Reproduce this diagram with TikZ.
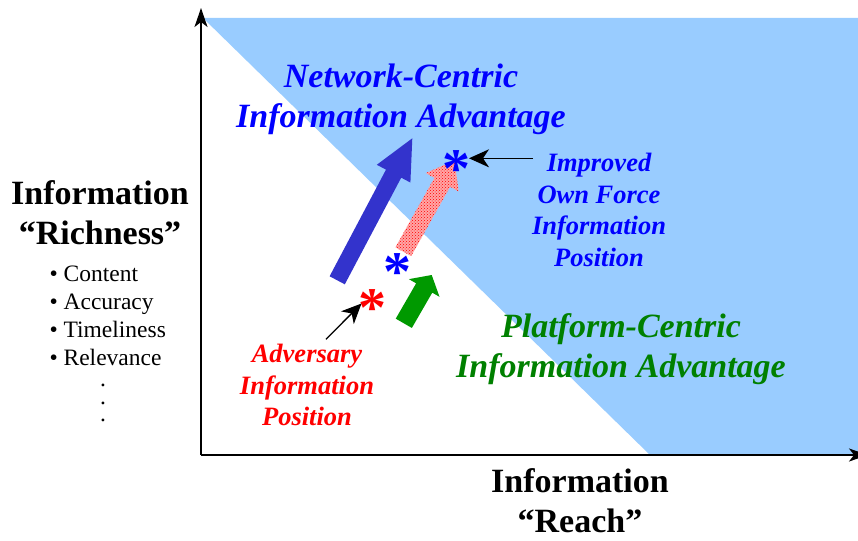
\documentclass[tikz,border=0pt]{standalone}
\usepackage{fontspec}
\setmainfont{Liberation Serif}
\usetikzlibrary{calc,arrows.meta,patterns}

\definecolor{skyfill}{RGB}{153,204,255}
\definecolor{netblue}{RGB}{0,0,255}
\definecolor{arrowblue}{RGB}{51,51,204}
\definecolor{platgreen}{RGB}{0,128,0}
\definecolor{arrowgreen}{RGB}{0,153,0}

\tikzset{
  axisline/.style={line width=1.5pt, -{Stealth[length=19pt,width=13pt,inset=5pt]}},
  pointer/.style={line width=1.3pt, -{Stealth[length=20pt,width=18pt,inset=6pt]}},
  axislabel/.style={font=\fontsize{34}{40}\selectfont\bfseries, align=center},
  bigtitle/.style={font=\fontsize{34}{40}\selectfont\bfseries\itshape, align=center},
  smalltitle/.style={font=\fontsize{26.5}{31.7}\selectfont\bfseries\itshape, align=center},
  facetlist/.style={font=\fontsize{23.5}{28}\selectfont, align=left},
  listdot/.style={font=\fontsize{23.5}{28}\selectfont, inner sep=0pt},
  starmark/.style={font=\fontsize{56}{56}\selectfont\bfseries, inner sep=0pt}
}

% fat block arrow: style, tail, tip, shaft half width, head half width, head length
\newcommand{\fatarrow}[6]{%
  \coordinate (hb) at ($(#3)!#6!(#2)$);
  \path[#1] ($(#2)!#4!90:(#3)$) -- ($(hb)!#4!90:(#3)$) -- ($(hb)!#5!90:(#3)$) -- (#3)
    -- ($(hb)!#5!-90:(#3)$) -- ($(hb)!#4!-90:(#3)$) -- ($(#2)!#4!-90:(#3)$) -- cycle;}

\begin{document}
\begin{tikzpicture}[x=1pt,y=-1pt]
  \useasboundingbox (0,0) rectangle (858,540);

  % Advantage region
  \fill[skyfill] (203,18) -- (858,18) -- (858,455) -- (650,455) -- cycle;

  % Axes
  \draw[axisline] (201,455) -- (201,8);
  \draw[axisline] (201,455) -- (868,455);

  % Axis labels
  \node[axislabel] (richness) at (100,213) {Information\\“Richness”};
  \node[facetlist, anchor=west] (facets) at (46,316) {• Content\\• Accuracy\\• Timeliness\\• Relevance};
  \node[listdot] (dotone) at (103,385) {.};
  \node[listdot] (dottwo) at (103,403) {.};
  \node[listdot] (dotthree) at (103,420) {.};
  \node[axislabel] (reach) at (580,501) {Information\\“Reach”};

  % Advantage labels
  \node[bigtitle, text=netblue] (network) at (401,99) {Network-Centric\\Information Advantage};
  \node[bigtitle, text=platgreen] (platform) at (621,349) {Platform-Centric\\Information Advantage};

  % Block arrows
  \coordinate (bluetail) at (337.2,280.3);
  \coordinate (bluetip) at (412.3,138.3);
  \fatarrow{fill=arrowblue}{bluetail}{bluetip}{8.6pt}{19pt}{40pt}
  \coordinate (pinktail) at (403.3,251.7);
  \coordinate (pinktip) at (454.5,160.5);
  \fatarrow{preaction={fill=red!35}, pattern=crosshatch dots, pattern color=red}{pinktail}{pinktip}{9pt}{18.8pt}{25pt}
  \coordinate (greentail) at (403.8,323.3);
  \coordinate (greentip) at (431.7,275);
  \fatarrow{fill=arrowgreen}{greentail}{greentip}{9.3pt}{17.7pt}{15pt}

  % Positions
  \node[starmark, text=red] (advstar) at (372,308.5) {*};
  \node[starmark, text=netblue] (ownstar) at (397.5,272.5) {*};
  \node[starmark, text=netblue] (newstar) at (456,169.5) {*};

  \node[smalltitle, text=netblue] (improved) at (599,210) {Improved\\Own Force\\Information\\Position};
  \node[smalltitle, text=red] (adversary) at (307,385) {Adversary\\Information\\Position};

  % Pointers
  \coordinate (improvedtail) at (533,158.3);
  \coordinate (improvedtip) at (469,158.3);
  \draw[pointer] (improvedtail) -- (improvedtip);
  \coordinate (adversarytail) at (326,339.3);
  \coordinate (adversarytip) at (361.5,303.5);
  \draw[pointer] (adversarytail) -- (adversarytip);
\end{tikzpicture}
\end{document}
